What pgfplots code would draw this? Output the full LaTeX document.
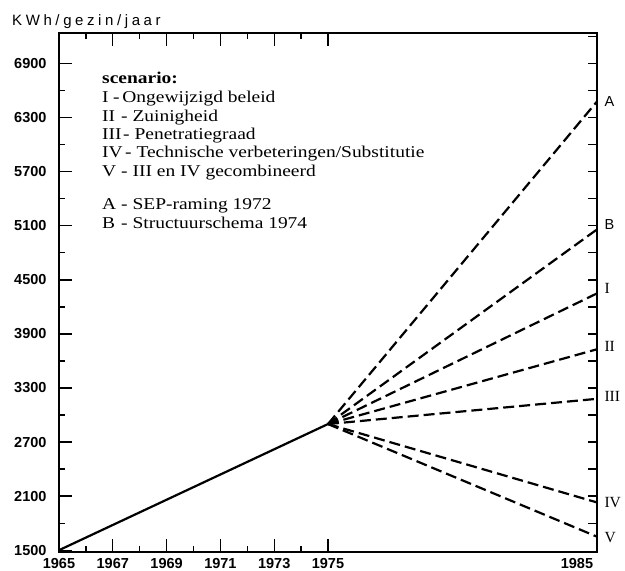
\documentclass[border=0pt]{standalone}
\usepackage{fontspec}
\setmainfont{Liberation Serif}
\setsansfont{Liberation Sans}
\newfontfamily\spaced[LetterSpace=24]{Liberation Sans}
\newfontfamily\legfont[FakeStretch=1.18]{Liberation Serif}
\usepackage{pgfplots}
\pgfplotsset{compat=1.18}
\newcommand{\leg}[4]{%
  \node[anchor=base west, inner sep=0, font=\legfont\fontsize{16.5}{16.5}\selectfont] at (102,#1) {#2};
  \node[anchor=base west, inner sep=0, font=\legfont\fontsize{16.5}{16.5}\selectfont] at (#3,#1) {#4};}
\begin{document}
\begin{tikzpicture}[x=1pt,y=1pt]
\path[use as bounding box] (0,0) rectangle (625,571);
\begin{axis}[
  at={(59pt,19pt)}, anchor=south west,
  scale only axis, width=538pt, height=519pt,
  xmin=1965, xmax=1985, ymin=1480, ymax=7240,
  axis line style={line width=1.6pt},
  xtick={1965,1967,1969,1971,1973,1975},
  minor xtick={1966,1968,1970,1972,1974},
  extra x ticks={1985},
  extra x tick style={xticklabel style={xshift=-20pt}},
  ytick={1500,2100,...,6900},
  minor ytick={1800,2400,...,6600},
  xtick pos=both, xticklabel pos=lower,
  ytick pos=left,
  tick align=inside,
  major tick length=13pt, minor tick length=6pt,
  tick style={line width=1.3pt, black},
  /pgf/number format/1000 sep={},
  /pgf/number format/assume math mode=true,
  ticklabel style={font=\sffamily\bfseries\fontsize{14.5}{14.5}\selectfont},
  yticklabel style={xshift=-9pt},
  xticklabel style={yshift=-3pt},
  clip=false,
]
\addplot[line width=2.2pt, black] coordinates {(1965,1500) (1975,2900)};
\addplot[line width=2.2pt, black, dash pattern=on 11pt off 5pt] coordinates {(1975,2900) (1985,6480)};
\addplot[line width=2.2pt, black, dash pattern=on 11pt off 5pt] coordinates {(1975,2900) (1985,5060)};
\addplot[line width=2.2pt, black, dash pattern=on 11pt off 5pt] coordinates {(1975,2900) (1985,4350)};
\addplot[line width=2.2pt, black, dash pattern=on 11pt off 5pt] coordinates {(1975,2900) (1985,3730)};
\addplot[line width=2.2pt, black, dash pattern=on 11pt off 5pt] coordinates {(1975,2900) (1985,3180)};
\addplot[line width=2.2pt, black, dash pattern=on 11pt off 5pt] coordinates {(1975,2900) (1985,2030)};
\addplot[line width=2.2pt, black, dash pattern=on 11pt off 5pt] coordinates {(1975,2900) (1985,1650)};
\node[anchor=west, xshift=4pt, font=\sffamily\fontsize{14.5}{14.5}\selectfont] at (axis cs:1985,6480) {A};
\node[anchor=west, xshift=4pt, font=\sffamily\fontsize{14.5}{14.5}\selectfont] at (axis cs:1985,5120) {B};
\node[anchor=west, xshift=4pt, font=\fontsize{15.5}{15.5}\selectfont] at (axis cs:1985,4400) {I};
\node[anchor=west, xshift=4pt, font=\fontsize{15.5}{15.5}\selectfont] at (axis cs:1985,3760) {II};
\node[anchor=west, xshift=4pt, font=\fontsize{15.5}{15.5}\selectfont] at (axis cs:1985,3210) {III};
\node[anchor=west, xshift=4pt, font=\fontsize{15.5}{15.5}\selectfont] at (axis cs:1985,2030) {IV};
\node[anchor=west, xshift=4pt, font=\fontsize{15.5}{15.5}\selectfont] at (axis cs:1985,1640) {V};
\end{axis}
\begin{axis}[
  at={(59pt,19pt)}, anchor=south west,
  scale only axis, width=538pt, height=519pt,
  xmin=1965, xmax=1985, ymin=1480, ymax=7240,
  axis line style={draw=none},
  xtick=\empty,
  ytick={1800,2100,...,7200}, yticklabels={},
  ytick pos=right, tick align=inside,
  major tick length=9pt,
  tick style={line width=1.3pt, black},
]
\end{axis}
\node[anchor=base west, font=\spaced\fontsize{15}{15}\selectfont, inner sep=0] at (12,545) {KWh/gezin/jaar};
\node[anchor=base west, inner sep=0, font=\legfont\bfseries\fontsize{16.5}{16.5}\selectfont] at (102,487) {scenario:};
\leg{468}{I}{113}{-\,Ongewijzigd beleid}
\leg{449}{II}{121}{- Zuinigheid}
\leg{431}{III}{123}{- Penetratiegraad}
\leg{413}{IV}{125}{- Technische verbeteringen/Substitutie}
\leg{394}{V}{121}{- III en IV gecombineerd}
\leg{361}{A}{121}{- SEP-raming 1972}
\leg{342.5}{B}{121}{- Structuurschema 1974}
\end{tikzpicture}
\end{document}
